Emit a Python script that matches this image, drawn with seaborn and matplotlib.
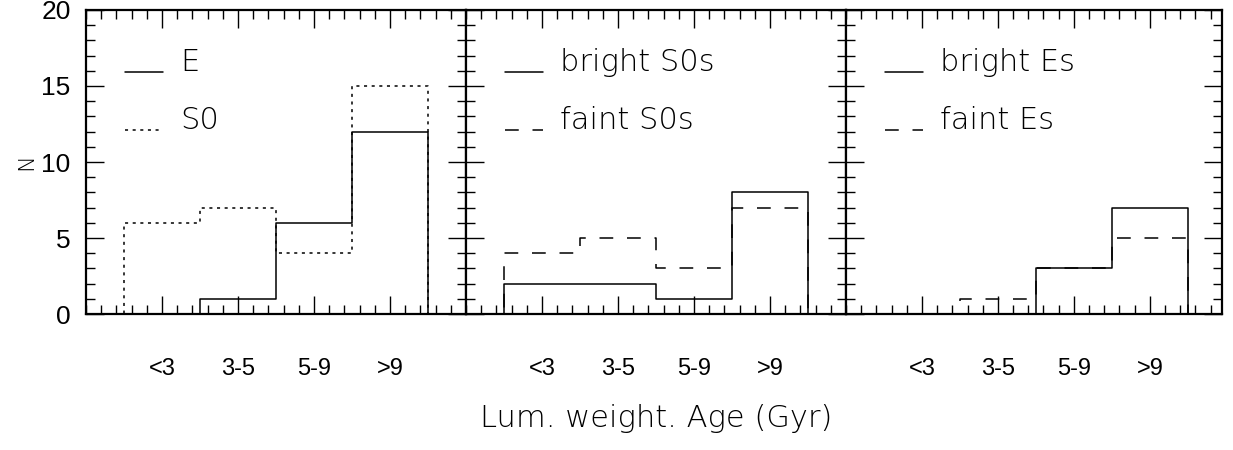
import numpy as np
import matplotlib
matplotlib.use("Agg")
import matplotlib.pyplot as plt
import seaborn as sns
from matplotlib.ticker import MultipleLocator
from matplotlib.legend_handler import HandlerLine2D

# age bins (x categories)
age_labels = ["<3", "3-5", "5-9", ">9"]
age_pos = [1, 2, 3, 4]

# left panel: Es vs S0s
n_E = [0, 1, 6, 12]
n_S0 = [6, 7, 4, 15]
# middle panel: S0s split by luminosity
n_bright_S0 = [2, 2, 1, 8]
n_faint_S0 = [4, 5, 3, 7]
# right panel: Es split by luminosity
n_bright_E = [0, 0, 3, 7]
n_faint_E = [0, 1, 3, 5]

solid = "-"
dotted = (0, (2, 3))
dashed = (0, (9, 9))

panels = [
    [(n_E, "E", solid), (n_S0, "S0", dotted)],
    [(n_bright_S0, "bright S0s", solid), (n_faint_S0, "faint S0s", dashed)],
    [(n_bright_E, "bright Es", solid), (n_faint_E, "faint Es", dashed)],
]

sns.set_style("ticks")
plt.rcParams.update({"text.color": "black", "axes.labelcolor": "black",
                     "xtick.color": "black", "ytick.color": "black"})
thin = dict(family=["DejaVu Sans"], weight="light")
tick_font = ["Liberation Sans", "DejaVu Sans"]


class BaselineLine(HandlerLine2D):
    # put the legend sample on the text baseline, like the old plot packages
    def create_artists(self, legend, orig_handle, xdescent, ydescent, width,
                       height, fontsize, trans):
        arts = super().create_artists(legend, orig_handle, xdescent, ydescent,
                                      width, height, fontsize, trans)
        for a in arts:
            a.set_ydata(np.asarray(a.get_ydata()) - 0.38 * fontsize)
        return arts


# pad with empty bins on each side so the outline closes down to zero
x_pad = [age_pos[0] - 1] + age_pos + [age_pos[-1] + 1]
edges = [p - 0.5 for p in x_pad] + [x_pad[-1] + 0.5]

fig = plt.figure(figsize=(12.33, 4.5), dpi=100)
W, H = 1233, 450
left, bottom, top = 86, 314, 10
pw = 380

axes = []
for i, series in enumerate(panels):
    width = pw if i < 2 else 376
    ax = fig.add_axes([(left + i * pw) / W, (H - bottom) / H, width / W, (bottom - top) / H])
    axes.append(ax)
    for counts, label, ls in series:
        sns.histplot(x=x_pad, weights=[0] + counts + [0], bins=edges, element="step",
                     fill=False, color="black", linewidth=1.1, linestyle=ls,
                     label=label, ax=ax)
    ax.set_xlim(0, 5 if i < 2 else 4.95)
    ax.set_ylim(0, 20)
    ax.xaxis.set_minor_locator(MultipleLocator(0.2))
    ax.yaxis.set_major_locator(MultipleLocator(5))
    ax.yaxis.set_minor_locator(MultipleLocator(1))
    ax.tick_params(which="both", direction="in", top=True, right=True, color="black")
    ax.tick_params(which="major", length=13, width=1)
    ax.tick_params(which="minor", length=6.5, width=1)
    ax.tick_params(axis="x", which="major", pad=32, labelsize=17)
    ax.tick_params(axis="y", which="major", pad=11, labelsize=19)
    ax.set_xticks(age_pos)
    ax.set_xticklabels(age_labels, family=tick_font, fontsize=17)
    for sp in ax.spines.values():
        sp.set_linewidth(1.6)
        sp.set_color("black")
    ax.set_xlabel("")
    ax.set_ylabel("")
    if i > 0:
        ax.set_yticklabels([])
    else:
        ax.set_yticks([0, 5, 10, 15, 20])
        ax.set_yticklabels(["0", "5", "10", "15", "20"], family=tick_font, fontsize=19)
    ax.legend(loc="upper left", bbox_to_anchor=(0.07, 0.915), frameon=False,
              handlelength=1.25, handletextpad=0.55, labelspacing=0.95,
              borderaxespad=0, prop=dict(size=22, **thin),
              handler_map={plt.Line2D: BaselineLine()})

axes[0].set_ylabel("N", fontsize=16, labelpad=4, **thin)
axes[1].set_xlabel("Lum. weight. Age (Gyr)", fontsize=22, labelpad=17, **thin)

fig.savefig("out.png", dpi=100)
